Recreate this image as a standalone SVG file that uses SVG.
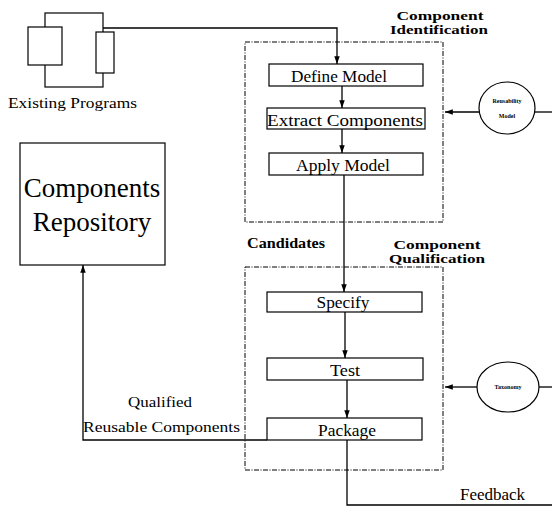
<svg xmlns="http://www.w3.org/2000/svg" width="552" height="508" viewBox="0 0 552 508">
<defs>
<style>
.ln{fill:none;stroke:#000;stroke-width:1.3}
.box{fill:#fff;stroke:#000;stroke-width:1.2}
.frame{fill:none;stroke:#000;stroke-width:1;stroke-dasharray:5 1.5 1 1.5}
.t{font-family:"Liberation Serif",serif;fill:#000}
.b{font-weight:bold}
</style>
<marker id="ah" viewBox="0 0 10 10" refX="10" refY="5" markerWidth="6" markerHeight="6" orient="auto"><path d="M0,1.5 L10,5 L0,8.5 z" fill="#000"/></marker>
</defs>
<rect width="552" height="508" fill="#fff"/>

<g id="existing-programs">
<rect x="45" y="13" width="58" height="74" class="box"/>
<rect x="28" y="27" width="34" height="38" class="box"/>
<rect x="96" y="32" width="18" height="41" class="box"/>
<text x="8" y="108" class="t" font-size="15" textLength="129" lengthAdjust="spacingAndGlyphs">Existing Programs</text>
</g>

<g id="components-repository">
<rect x="20" y="143" width="145" height="122" class="box"/>
<text x="92" y="197" class="t" font-size="27" text-anchor="middle">Components</text>
<text x="92" y="231" class="t" font-size="27" text-anchor="middle">Repository</text>
</g>

<g id="component-identification">
<rect x="245" y="42" width="198" height="180" class="frame"/>
<text x="440" y="20" class="t b" font-size="13" text-anchor="middle" textLength="87" lengthAdjust="spacingAndGlyphs">Component</text>
<text x="439" y="34" class="t b" font-size="13" text-anchor="middle" textLength="98" lengthAdjust="spacingAndGlyphs">Identification</text>
</g>

<g id="define-model">
<rect x="269" y="64" width="154" height="22" class="box"/>
<text x="339" y="82" class="t" font-size="16" text-anchor="middle" textLength="96" lengthAdjust="spacingAndGlyphs">Define Model</text>
</g>
<g id="extract-components">
<rect x="267" y="108" width="158" height="21" class="box"/>
<text x="345" y="126" class="t" font-size="16" text-anchor="middle" textLength="156" lengthAdjust="spacingAndGlyphs">Extract Components</text>
</g>
<g id="apply-model">
<rect x="269" y="153" width="154" height="22" class="box"/>
<text x="343" y="171" class="t" font-size="16" text-anchor="middle" textLength="94" lengthAdjust="spacingAndGlyphs">Apply Model</text>
</g>

<g id="reusability-model">
<ellipse cx="507" cy="108" rx="28" ry="26" class="box"/>
<text x="507" y="103" class="t b" font-size="6" text-anchor="middle">Reusability</text>
<text x="507" y="118" class="t b" font-size="6" text-anchor="middle">Model</text>
</g>

<g id="component-qualification">
<rect x="245" y="267" width="198" height="203" class="frame"/>
<text x="437" y="249" class="t b" font-size="13" text-anchor="middle" textLength="87" lengthAdjust="spacingAndGlyphs">Component</text>
<text x="437" y="263" class="t b" font-size="13" text-anchor="middle" textLength="96" lengthAdjust="spacingAndGlyphs">Qualification</text>
</g>

<g id="specify">
<rect x="267" y="292" width="155" height="20" class="box"/>
<text x="343" y="308" class="t" font-size="16" text-anchor="middle" textLength="53" lengthAdjust="spacingAndGlyphs">Specify</text>
</g>
<g id="test">
<rect x="267" y="358" width="156" height="22" class="box"/>
<text x="345" y="376" class="t" font-size="16" text-anchor="middle" textLength="30" lengthAdjust="spacingAndGlyphs">Test</text>
</g>
<g id="package">
<rect x="267" y="418" width="155" height="22" class="box"/>
<text x="347" y="436" class="t" font-size="16" text-anchor="middle" textLength="58" lengthAdjust="spacingAndGlyphs">Package</text>
</g>

<g id="taxonomy">
<ellipse cx="508" cy="387" rx="31" ry="25" class="box"/>
<text x="508" y="389" class="t b" font-size="6" text-anchor="middle">Taxonomy</text>
</g>

<g id="connectors">
<path d="M103,28 H337 V64" class="ln" marker-end="url(#ah)"/>
<path d="M342,86 V108" class="ln" marker-end="url(#ah)"/>
<path d="M342,129 V153" class="ln" marker-end="url(#ah)"/>
<path d="M344,175 V292" class="ln" marker-end="url(#ah)"/>
<path d="M345,312 V358" class="ln" marker-end="url(#ah)"/>
<path d="M347,380 V418" class="ln" marker-end="url(#ah)"/>
<path d="M267,440 H83 V265" class="ln" marker-end="url(#ah)"/>
<path d="M347,440 V505 H552" class="ln"/>
<path d="M479,112 H445" class="ln" marker-end="url(#ah)"/>
<path d="M535,112 H552" class="ln"/>
<path d="M477,387 H445" class="ln" marker-end="url(#ah)"/>
<path d="M539,387 H552" class="ln"/>
<text x="247" y="248" class="t b" font-size="15" textLength="78" lengthAdjust="spacingAndGlyphs">Candidates</text>
<text x="160" y="407" class="t" font-size="15" text-anchor="middle" textLength="64" lengthAdjust="spacingAndGlyphs">Qualified</text>
<text x="83" y="432" class="t" font-size="15" textLength="157" lengthAdjust="spacingAndGlyphs">Reusable Components</text>
<text x="460" y="500" class="t" font-size="16" textLength="65" lengthAdjust="spacingAndGlyphs">Feedback</text>
</g>
</svg>
